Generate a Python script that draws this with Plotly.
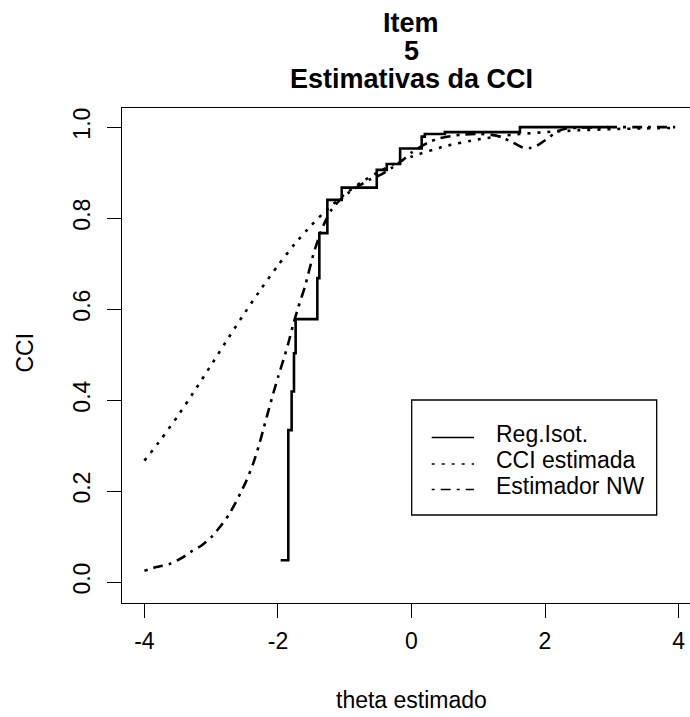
import plotly.graph_objects as go

# ---------------- data ----------------
# Reg.Isot. : isotonic-regression step function (value holds from x to next x)
iso_x = [-1.96, -1.845, -1.795, -1.76, -1.735, -1.41, -1.38, -1.26, -1.045,
         -0.52, -0.37, -0.17, 0.153, 0.20, 0.50, 1.625, 2.95]
iso_y = [0.048, 0.334, 0.419, 0.503, 0.578, 0.668, 0.767, 0.840, 0.867,
         0.906, 0.919, 0.953, 0.979, 0.985, 0.989, 1.000, 1.000]

# CCI estimada : fitted item characteristic curve (dotted)
cci_x = [-4.0, -3.75, -3.5, -3.25, -3.0, -2.75, -2.5, -2.25, -2.0, -1.75, -1.5,
         -1.25, -1.0, -0.75, -0.5, -0.25, 0.0, 0.5, 1.0, 1.5, 2.0, 2.5, 3.0,
         3.5, 3.95]
cci_y = [0.267, 0.314, 0.365, 0.420, 0.477, 0.535, 0.591, 0.645, 0.696, 0.743,
         0.784, 0.821, 0.852, 0.879, 0.901, 0.920, 0.935, 0.958, 0.973, 0.983,
         0.989, 0.993, 0.9956, 0.9972, 0.9982]

# Estimador NW : Nadaraya-Watson kernel estimate (dash-dot)
nw_x = [-4.0, -3.82, -3.62, -3.44, -3.29, -3.14, -2.99, -2.87, -2.74, -2.64,
        -2.54, -2.47, -2.37, -2.29, -2.22, -2.145, -2.07, -1.995, -1.92, -1.85,
        -1.77, -1.70, -1.595, -1.47, -1.37, -1.30, -1.195, -1.07, -0.95, -0.72,
        -0.62, -0.45, -0.30, -0.12, 0.0, 0.25, 0.43, 0.73, 1.0, 1.2, 1.33, 1.45,
        1.52, 1.60, 1.67, 1.77, 1.85, 1.90, 2.05, 2.175, 2.325, 2.6, 3.0, 3.5,
        3.95]
nw_y = [0.025, 0.033, 0.040, 0.053, 0.068, 0.081, 0.100, 0.121, 0.147, 0.173,
        0.202, 0.224, 0.261, 0.298, 0.335, 0.375, 0.415, 0.452, 0.488, 0.522,
        0.567, 0.602, 0.650, 0.720, 0.765, 0.790, 0.819, 0.840, 0.855, 0.877,
        0.885, 0.896, 0.910, 0.929, 0.944, 0.966, 0.976, 0.983, 0.985, 0.983,
        0.979, 0.971, 0.966, 0.960, 0.955, 0.954, 0.957, 0.961, 0.976, 0.990,
        0.997, 0.999, 1.000, 1.000, 1.000]

x_ticks = [-4, -2, 0, 2, 4]
x_ticklabels = ["-4", "-2", "0", "2", "4"]
y_ticks = [0.0, 0.2, 0.4, 0.6, 0.8, 1.0]
y_ticklabels = ["0.0", "0.2", "0.4", "0.6", "0.8", "1.0"]

series_names = ["Reg.Isot.", "CCI estimada", "Estimador NW"]
title_lines = ["Item", "5", "Estimativas da CCI"]
x_title = "theta estimado"
y_title = "CCI"

# ---------------- styling ----------------
FONT = "Liberation Sans, Arial, sans-serif"
BLACK = "#000000"
DOT = "3px,7px"
DASHDOT = "3px,6px,10px,6px"
W_SOLID = 2.6
W_DASH = 2.6

W, H = 690, 717
ML, MR, MT, MB = 122, 0, 108, 114
PW = W - ML - MR
PH = H - MT - MB


def px_to_paper_x(px):
    return (px - ML) / PW


def px_to_paper_y(py):
    return (H - MB - py) / PH


fig = go.Figure()
fig.add_trace(go.Scatter(x=iso_x, y=iso_y, mode="lines", name=series_names[0],
                         line=dict(color=BLACK, width=W_SOLID, shape="hv"),
                         showlegend=False))
fig.add_trace(go.Scatter(x=cci_x, y=cci_y, mode="lines", name=series_names[1],
                         line=dict(color=BLACK, width=W_DASH, dash=DOT,
                                   shape="spline", smoothing=0.6),
                         showlegend=False))
fig.add_trace(go.Scatter(x=nw_x, y=nw_y, mode="lines", name=series_names[2],
                         line=dict(color=BLACK, width=W_DASH, dash=DASHDOT,
                                   shape="spline", smoothing=0.6),
                         showlegend=False))

annotations = []
# Title (three lines, R-like spacing)
for txt, py in zip(title_lines, [23, 51, 79]):
    annotations.append(dict(text="<b>%s</b>" % txt, x=px_to_paper_x(411),
                            y=px_to_paper_y(py), xref="paper", yref="paper",
                            xanchor="center", yanchor="middle", showarrow=False,
                            borderpad=0,
                            font=dict(family=FONT, size=27, color=BLACK)))
# Axis titles
annotations.append(dict(text=x_title, x=px_to_paper_x(411), y=px_to_paper_y(700),
                        xref="paper", yref="paper", xanchor="center",
                        yanchor="middle", showarrow=False,
                        font=dict(family=FONT, size=23, color=BLACK)))
annotations.append(dict(text=y_title, x=px_to_paper_x(24), y=px_to_paper_y(352.5),
                        xref="paper", yref="paper", xanchor="center",
                        yanchor="middle", showarrow=False, textangle=-90,
                        font=dict(family=FONT, size=23, color=BLACK)))

# Legend (R style box)
shapes = [dict(type="rect", xref="paper", yref="paper",
               x0=px_to_paper_x(411.7), x1=px_to_paper_x(656.7),
               y0=px_to_paper_y(515), y1=px_to_paper_y(400),
               line=dict(color=BLACK, width=1.3), fillcolor="white")]
legend_rows = [437.5, 464, 489.5]
legend_dash = ["solid", DOT, DASHDOT]
legend_w = [1.5, 1.5, 1.5]
for name, py, dash, lw in zip(series_names, legend_rows, legend_dash, legend_w):
    shapes.append(dict(type="line", xref="paper", yref="paper",
                       x0=px_to_paper_x(431.7), x1=px_to_paper_x(474),
                       y0=px_to_paper_y(py), y1=px_to_paper_y(py),
                       line=dict(color=BLACK, width=lw, dash=dash)))
    annotations.append(dict(text=name, x=px_to_paper_x(494), y=px_to_paper_y(py - 4),
                            xref="paper", yref="paper", xanchor="left",
                            yanchor="middle", showarrow=False,
                            font=dict(family=FONT, size=23, color=BLACK)))

fig.update_layout(
    width=W, height=H,
    margin=dict(l=ML, r=MR, t=MT, b=MB, pad=0),
    paper_bgcolor="white", plot_bgcolor="white",
    font=dict(family=FONT, size=23, color=BLACK),
    showlegend=False,
    annotations=annotations,
    shapes=shapes,
)
fig.update_xaxes(range=[-4.336, 4.172], tickvals=x_ticks, ticktext=x_ticklabels,
                 showgrid=False, zeroline=False, showline=True, linecolor=BLACK,
                 linewidth=1.3, mirror=True, ticks="outside", ticklen=14,
                 tickwidth=1.3, tickcolor=BLACK, ticklabelstandoff=3,
                 tickfont=dict(family=FONT, size=23, color=BLACK))
fig.update_yaxes(range=[-0.046, 1.042], tickvals=y_ticks, ticktext=y_ticklabels,
                 showgrid=False, zeroline=False, showline=True, linecolor=BLACK,
                 linewidth=1.3, mirror=False, ticks="outside", ticklen=14,
                 tickwidth=1.3, tickcolor=BLACK, tickangle=-90,
                 ticklabelstandoff=8,
                 tickfont=dict(family=FONT, size=23, color=BLACK))

fig.write_html("out.html")
